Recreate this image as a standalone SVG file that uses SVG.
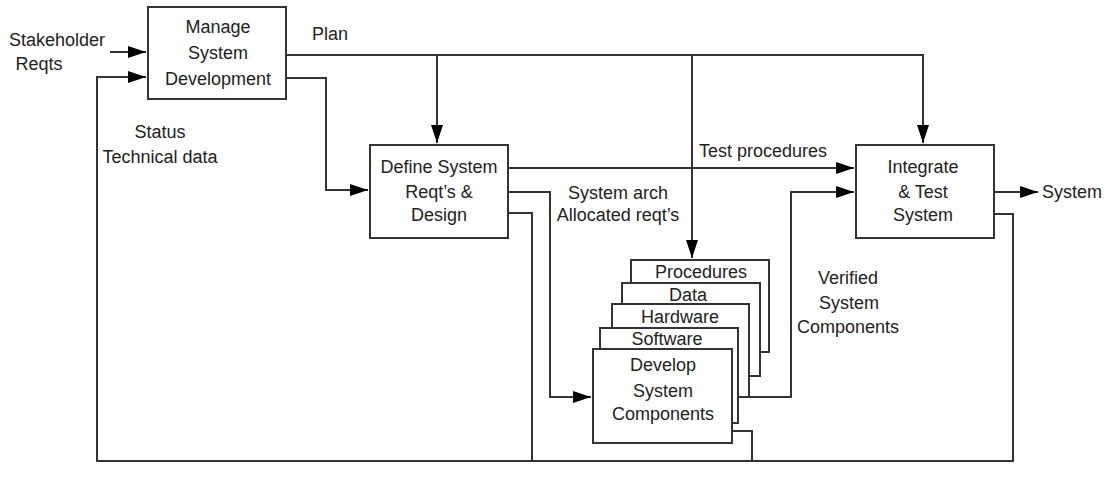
<svg xmlns="http://www.w3.org/2000/svg" width="1105" height="491" viewBox="0 0 1105 491">
<style>
.box{fill:#fff;stroke:#333;stroke-width:2}
.ln{fill:none;stroke:#333;stroke-width:2}
text{font-family:"Liberation Sans",Arial,sans-serif;font-size:18px;fill:#222}
.c{text-anchor:middle}
</style>
<defs>
<marker id="ah" markerUnits="userSpaceOnUse" markerWidth="20" markerHeight="14" refX="18" refY="6" orient="auto">
<path d="M0,0 L18,6 L0,12 z" fill="#000"/>
</marker>
</defs>
<rect width="1105" height="491" fill="#fff"/>
<g id="connectors">
<path class="ln" d="M110,52 H146" marker-end="url(#ah)"/>
<path class="ln" d="M994,214 H1013 V461 H97 V77 H146" marker-end="url(#ah)"/>
<path class="ln" d="M508,213 H532 V461"/>
<path class="ln" d="M732,431 H752 V461"/>
<path class="ln" d="M286,55 H923 V143" marker-end="url(#ah)"/>
<path class="ln" d="M437,55 V143" marker-end="url(#ah)"/>
<path class="ln" d="M692,55 V258" marker-end="url(#ah)"/>
<path class="ln" d="M286,78 H326 V190 H368" marker-end="url(#ah)"/>
<path class="ln" d="M508,168 H854" marker-end="url(#ah)"/>
<path class="ln" d="M508,192 H550 V397 H591" marker-end="url(#ah)"/>
<path class="ln" d="M749,397 H791 V192 H854" marker-end="url(#ah)"/>
<path class="ln" d="M994,192 H1038" marker-end="url(#ah)"/>
</g>
<g id="manage">
<rect class="box" x="148" y="7" width="138" height="92"/>
<text class="c" x="218" y="33">Manage</text>
<text class="c" x="218" y="59">System</text>
<text class="c" x="218" y="85">Development</text>
</g>
<g id="define">
<rect class="box" x="370" y="145" width="138" height="93"/>
<text class="c" x="439" y="173">Define System</text>
<text class="c" x="439" y="198">Reqt’s &amp;</text>
<text class="c" x="439" y="221">Design</text>
</g>
<g id="integrate">
<rect class="box" x="856" y="145" width="138" height="93"/>
<text class="c" x="923" y="173">Integrate</text>
<text class="c" x="923" y="198">&amp; Test</text>
<text class="c" x="923" y="221">System</text>
</g>
<g id="procedures">
<rect class="box" x="631" y="260" width="138" height="92"/>
<text class="c" x="701" y="278">Procedures</text>
</g>
<g id="data">
<rect class="box" x="622" y="283" width="138" height="93"/>
<text class="c" x="688" y="301">Data</text>
</g>
<g id="hardware">
<rect class="box" x="612" y="304" width="137" height="93"/>
<text class="c" x="680" y="323">Hardware</text>
</g>
<g id="software">
<rect class="box" x="600" y="328" width="138" height="95"/>
<text class="c" x="667" y="345">Software</text>
</g>
<g id="develop">
<rect class="box" x="593" y="349" width="139" height="94"/>
<text class="c" x="663" y="371">Develop</text>
<text class="c" x="663" y="397">System</text>
<text class="c" x="663" y="420">Components</text>
</g>
<g id="labels">
<text x="9" y="46">Stakeholder</text>
<text class="c" x="39" y="70">Reqts</text>
<text x="312" y="40">Plan</text>
<text class="c" x="160" y="138">Status</text>
<text class="c" x="160" y="163">Technical data</text>
<text class="c" x="763" y="157">Test procedures</text>
<text class="c" x="618" y="199">System arch</text>
<text class="c" x="618" y="221">Allocated reqt’s</text>
<text class="c" x="848" y="284">Verified</text>
<text class="c" x="849" y="309">System</text>
<text class="c" x="848" y="333">Components</text>
<text x="1042" y="198">System</text>
</g>
</svg>
